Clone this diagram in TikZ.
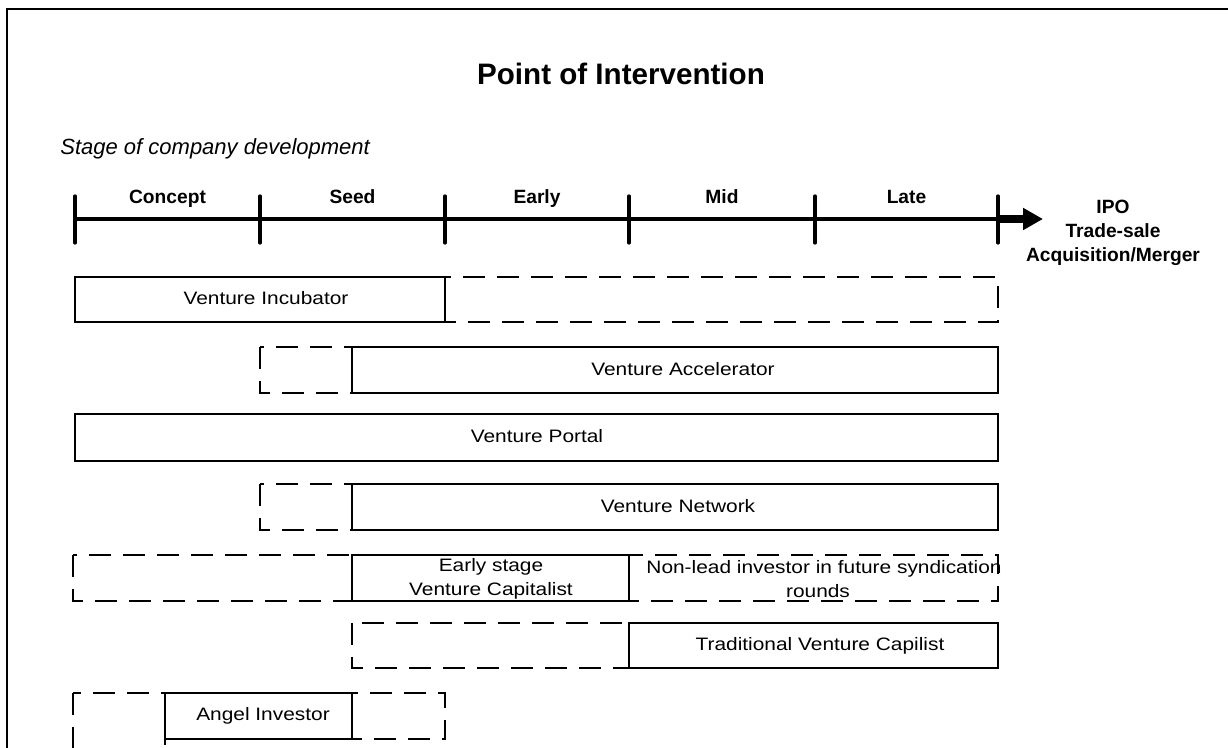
\documentclass[tikz,border=0pt]{standalone}
\usepackage{fontspec}
\setmainfont{Liberation Sans}
\newfontfamily\boxfont[FakeStretch=1.16]{Liberation Sans}
\usetikzlibrary{arrows.meta}
\usetikzlibrary{calc}
\tikzset{>={Triangle[length=10pt,width=10.5pt]}}
\tikzset{solidpart/.style={line width=0.9pt}}
\tikzset{openpart/.style={line width=0.9pt, dash pattern=on 11pt off 6pt}}
\tikzset{lbl/.style={font=\boxfont\fontsize{9}{12}\selectfont, align=center, inner sep=0pt}}
\tikzset{stagelbl/.style={font=\bfseries\fontsize{9.6}{11}\selectfont, anchor=base, inner sep=0pt}}
\tikzset{tickmark/.style={line width=1.6pt, line cap=round}}

\begin{document}
\begin{tikzpicture}[x=0.5pt, y=-0.5pt]
\useasboundingbox (0,0) rectangle (1228,748);
\clip (0,0) rectangle (1228,748);

%%% Frame and heading

\coordinate (fb) at (7,770);
\coordinate (fc) at (7,9);
\coordinate (fr) at (1240,9);
\draw[line width=1.1pt] (fb) -- (fc) -- (fr);

\node[font=\bfseries\fontsize{14.8}{17}\selectfont, anchor=base] (title) at (621,85) {Point of Intervention};
\node[font=\itshape\fontsize{11}{13}\selectfont, anchor=base west, inner sep=0pt] (stage) at (60,155) {Stage of company development};

%%% The axis

\foreach \i/\x in {1/75, 2/260, 3/445, 4/629, 5/815, 6/998}
  \coordinate (t\i) at (\x,219);
\coordinate (tip) at (1043,219);

\draw[line width=2.3pt] (t1) -- (t6);
\draw[->, line width=4pt] (t6) -- (tip);
\foreach \i in {1,...,6}
  \draw[tickmark] (t\i) ++(0,-23) -- ++(0,47);

\foreach \a/\b/\name in {1/2/Concept, 2/3/Seed, 3/4/Early, 4/5/Mid, 5/6/Late}
  \node[stagelbl] (lab\a) at ($(t\a)!0.5!(t\b) + (0,-15)$) {\name};

\node[font=\bfseries\fontsize{9.6}{12}\selectfont, align=center, inner sep=0pt] (exit) at (1113,233) {IPO\\Trade-sale\\Acquisition/Merger};

%%% The vehicles

\draw[openpart] (445,277) rectangle (998,322);
\draw[solidpart] (75,277) rectangle (445,322);
\node[lbl] (incub) at (266,298) {Venture Incubator};

\draw[openpart] (260,347) rectangle (352,393);
\draw[solidpart] (352,347) rectangle (998,393);
\node[lbl] (accel) at (683,369) {Venture Accelerator};

\draw[solidpart] (75,414) rectangle (998,461);
\node[lbl] (portal) at (537,436) {Venture Portal};

\draw[openpart] (260,484) rectangle (352,530);
\draw[solidpart] (352,484) rectangle (998,530);
\node[lbl] (netw) at (678,506) {Venture Network};

\draw[openpart] (73,555) rectangle (352,601);
\draw[openpart] (629,555) rectangle (998,601);
\draw[solidpart] (352,555) rectangle (629,601);
\node[lbl] (earlyvc) at (491,579) {Early stage\\Venture Capitalist};
\node[lbl] (nonlead) at (824,579) {Non-lead investor in future syndication\\rounds\hspace*{6pt}};

\draw[openpart] (352,623) rectangle (629,668);
\draw[solidpart] (629,623) rectangle (998,668);
\node[lbl] (tradvc) at (820,646) {Traditional Venture Capilist};

\draw[openpart] (73,693) rectangle (165,775);
\draw[openpart] (352,693) rectangle (445,739);
\draw[solidpart] (165,693) rectangle (352,739);
\node[lbl] (angel) at (263,716) {Angel Investor};

\end{tikzpicture}
\end{document}
